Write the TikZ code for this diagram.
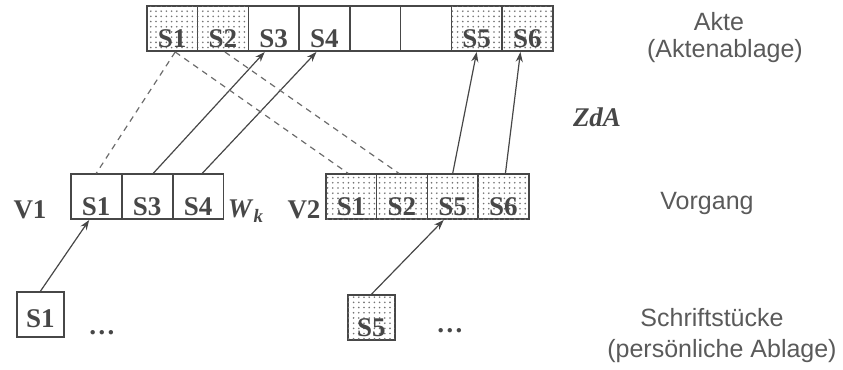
\documentclass[tikz,border=0pt]{standalone}
\usepackage{fontspec}
\setmainfont{Liberation Serif}
\newfontfamily\labelfont{Liberation Sans}
\usetikzlibrary{patterns.meta,arrows.meta}
\definecolor{ink}{HTML}{474747}
\definecolor{dotgray}{HTML}{737373}
\begin{document}
\begin{tikzpicture}[x=0.5pt,y=-0.5pt,
  cell/.style={draw=ink,line width=0.8pt,rectangle,inner sep=0pt,
    minimum width=25.4pt,text height=20.5pt,text depth=2pt,
    font=\fontsize{13.5}{15}\selectfont\bfseries,text=ink,fill=white},
  dotted cell/.style={cell,postaction={pattern={Dots[distance=2.6pt,radius=0.45pt]},pattern color=dotgray}},
  single/.style={minimum width=23.5pt},
  tag/.style={font=\fontsize{13.5}{15}\selectfont\bfseries,text=ink,inner sep=0pt},
  side/.style={font=\labelfont\fontsize{12.5}{14}\selectfont,text=ink!90,inner sep=0pt},
  link/.style={draw=ink,line width=0.6pt,-{Stealth[length=5pt,width=3.6pt]}},
  copy/.style={draw=ink!80,line width=0.6pt,dashed,dash pattern=on 3pt off 2.5pt}]
\useasboundingbox (0,0) rectangle (843,370);

% Akte: eight slots along the top
\foreach \i/\t/\s in {1/S1/dotted cell,2/S2/dotted cell,3/S3/cell,4/S4/cell,5/{}/cell,6/{}/cell,7/S5/dotted cell,8/S6/dotted cell}
  \node[\s,anchor=south west] (a\i) at ({146+50.75*(\i-1)},52) {\t};

% Vorgang V1
\foreach \i/\t in {1/S1,2/S3,3/S4}
  \node[cell,anchor=south west] (p\i) at ({70+51*(\i-1)},220) {\t};

% Vorgang V2
\foreach \i/\t in {1/S1,2/S2,3/S5,4/S6}
  \node[dotted cell,anchor=south west] (q\i) at ({325+50.75*(\i-1)},220) {\t};

% single documents
\node[cell,single,anchor=south west,text height=17.5pt,text depth=5pt] (b1) at (16,338) {S1};
\node[dotted cell,single,anchor=south west] (b5) at (347,341) {S5};

% labels beside the boxes
\node[tag] (lv1) at (30,210) {V1};
\node[tag] (lv2) at (304,210) {V2};
\node[tag] (lwk) at (246,211) {\textit{W}\textsubscript{\textit{k}}};
\node[tag] (zda) at (597,117) {\textit{ZdA}};
\node[tag] (dots1) at (102,333) {\dots};
\node[tag] (dots2) at (450,331) {\dots};

\node[side] (akte) at (719,22) {Akte};
\node[side] (ablage) at (725,51) {(Aktenablage)};
\node[side] (vorgang) at (707,203) {Vorgang};
\node[side] (schrift) at (712,318) {Schriftstücke};
\node[side] (pers) at (722,351) {(persönliche Ablage)};

% documents filed into the Vorgang
\draw[link] (b1.north) -- ([xshift=-3.5pt]p1.south);
\draw[link] (b5.north) -- ([xshift=-4.5pt]q3.south);

% Vorgang documents filed into the Akte
\draw[link] ([xshift=3pt]p2.north) -- ([xshift=-4.5pt]a3.south);
\draw[link] ([xshift=2pt]p3.north) -- ([xshift=-4pt]a4.south);
\draw[link] (q3.north) -- (a7.south);
\draw[link] ([xshift=1pt]q4.north) -- ([xshift=-3.5pt]a8.south);

% references back from the Akte
\draw[copy] ([xshift=1.5pt]a1.south) -- (p1.north);
\draw[copy] ([xshift=1.5pt]a1.south) -- ([xshift=-1.5pt]q1.north);
\draw[copy] ([xshift=1pt]a2.south) -- ([xshift=-1.5pt]q2.north);
\end{tikzpicture}
\end{document}
